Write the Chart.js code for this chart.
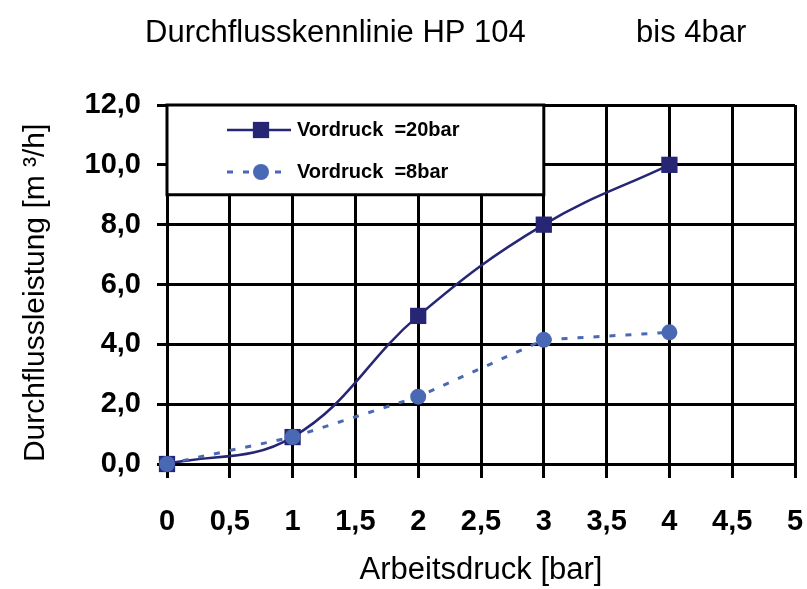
<!DOCTYPE html>
<html>
<head>
<meta charset="utf-8">
<script src="https://cdn.jsdelivr.net/npm/chart.js@4.4.0/dist/chart.umd.min.js"></script>
<style>
  html, body { margin: 0; padding: 0; background: #fff; }
  canvas { display: block; }
</style>
</head>
<body>
<canvas id="flowChart" width="807" height="589"></canvas>
<script>
// Data
const pressure = [0, 1, 2, 3, 4];              // Arbeitsdruck [bar]
const flow20bar = [0, 0.9, 4.95, 8.0, 10.0];   // Vordruck 20 bar
const flow8bar = [0, 0.9, 2.25, 4.15, 4.4];    // Vordruck 8 bar
const seriesLabels = ['Vordruck  =20bar', 'Vordruck  =8bar'];
const titleText = 'Durchflusskennlinie HP 104';
const titleNote = 'bis 4bar';
const xTitle = 'Arbeitsdruck [bar]';
const yTitle = 'Durchflussleistung [m ³/h]  '; // trailing spaces push it a bit down like the original

const FONT = '"Liberation Sans", Arial, sans-serif';
const navy = '#262675';
const steel = '#4a69b5';

function toPoints(ys) {
    return pressure.map((x, i) => ({ x: x, y: ys[i] }));
}

// Title above the plot (two parts, far apart)
const chartTitle = {
    id: 'chartTitle',
    afterDraw(chart) {
        const ctx = chart.ctx;
        ctx.save();
        ctx.fillStyle = '#000';
        ctx.font = '31px ' + FONT;
        ctx.textBaseline = 'alphabetic';
        ctx.textAlign = 'left';
        ctx.fillText(titleText, 145, 42);
        ctx.fillText(titleNote, 636, 42);
        ctx.restore();
    }
};

// Boxed legend in the top-left corner of the plot
const boxLegend = {
    id: 'boxLegend',
    afterDraw(chart) {
        const ctx = chart.ctx;
        const xs = chart.scales.x, ys = chart.scales.y;
        const left = xs.getPixelForValue(0), right = xs.getPixelForValue(3);
        const top = ys.getPixelForValue(12), bottom = ys.getPixelForValue(9);
        ctx.save();
        ctx.fillStyle = '#fff';
        ctx.fillRect(left, top, right - left, bottom - top);
        ctx.strokeStyle = '#000';
        ctx.lineWidth = 3;
        ctx.strokeRect(left, top, right - left, bottom - top);

        chart.data.datasets.forEach((ds, i) => {
            const cy = top + 25 + i * 42;
            const mx = left + 94;
            ctx.strokeStyle = ds.borderColor;
            ctx.lineWidth = ds.borderWidth;
            ctx.setLineDash(ds.borderDash || []);
            ctx.beginPath();
            ctx.moveTo(left + 60, cy);
            ctx.lineTo(left + 124, cy);
            ctx.stroke();
            ctx.setLineDash([]);
            ctx.fillStyle = ds.backgroundColor;
            if (ds.pointStyle === 'rect') {
                const h = ds.pointRadius * Math.SQRT1_2;
                ctx.fillRect(mx - h, cy - h, 2 * h, 2 * h);
            } else {
                ctx.beginPath();
                ctx.arc(mx, cy, ds.pointRadius, 0, Math.PI * 2);
                ctx.fill();
            }
            ctx.fillStyle = '#000';
            ctx.font = 'bold 20px ' + FONT;
            ctx.textBaseline = 'middle';
            ctx.fillText(ds.label, left + 130, cy);
        });
        ctx.restore();
    }
};

new Chart(document.getElementById('flowChart'), {
    type: 'line',
    data: {
        datasets: [
            {
                label: seriesLabels[0],
                data: toPoints(flow20bar),
                borderColor: navy,
                backgroundColor: navy,
                borderWidth: 2.5,
                tension: 0.4,
                pointStyle: 'rect',
                pointRadius: 11.5,
                pointBorderWidth: 0,
                order: 2,
                clip: false
            },
            {
                label: seriesLabels[1],
                data: toPoints(flow8bar),
                borderColor: steel,
                backgroundColor: steel,
                borderWidth: 3,
                borderDash: [6, 10],
                tension: 0,
                pointStyle: 'circle',
                pointRadius: 8,
                pointBorderWidth: 0,
                order: 1,
                clip: false
            }
        ]
    },
    options: {
        responsive: false,
        animation: false,
        layout: { padding: { top: 105, right: 12, left: 0, bottom: 0 } },
        plugins: {
            legend: { display: false },
            tooltip: { enabled: false },
            title: { display: false }
        },
        scales: {
            x: {
                type: 'linear',
                min: 0,
                max: 5,
                afterFit: s => {
                    s.height = 125;
                    s.paddingLeft = 0;
                    s.paddingRight = 0;
                },
                ticks: {
                    stepSize: 0.5,
                    autoSkip: false,
                    maxRotation: 0,
                    color: '#000',
                    padding: 27,
                    font: { family: FONT, size: 29, weight: 'bold' },
                    callback: v => String(v).replace('.', ',')
                },
                grid: { color: '#000', lineWidth: 3, tickLength: 14 },
                border: { color: '#000', width: 3 },
                title: {
                    display: true,
                    text: xTitle,
                    color: '#000',
                    font: { family: FONT, size: 31 },
                    padding: { top: 0, bottom: 0 }
                }
            },
            y: {
                min: 0,
                max: 12,
                afterFit: s => {
                    s.width = 167;
                    s.paddingTop = 0;
                    s.paddingBottom = 0;
                },
                ticks: {
                    stepSize: 2,
                    color: '#000',
                    padding: 16,
                    font: { family: FONT, size: 29, weight: 'bold' },
                    callback: v => v.toFixed(1).replace('.', ',')
                },
                grid: { color: '#000', lineWidth: 3, tickLength: 10 },
                border: { color: '#000', width: 3 },
                title: {
                    display: true,
                    text: yTitle,
                    color: '#000',
                    font: { family: FONT, size: 30 },
                    padding: { top: 18, bottom: 0 }
                }
            }
        }
    },
    plugins: [chartTitle, boxLegend]
});
</script>
</body>
</html>
